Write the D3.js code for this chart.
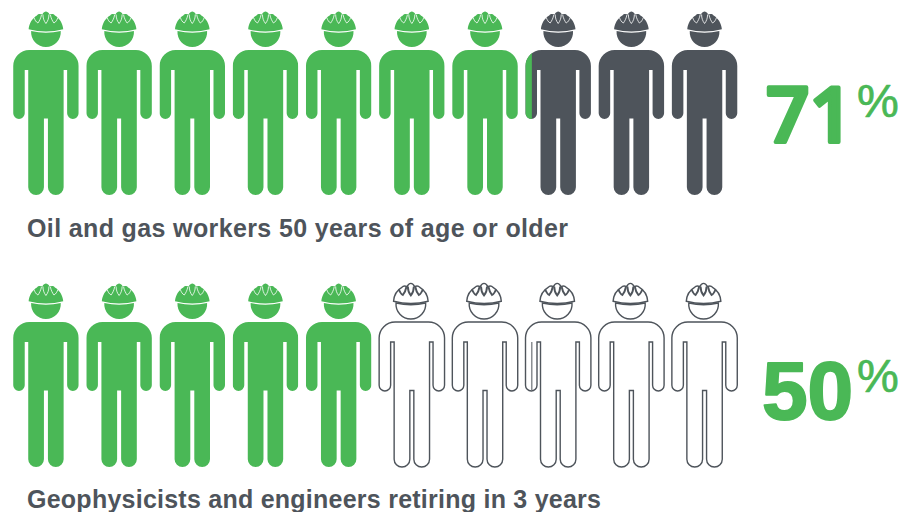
<!DOCTYPE html>
<html>
<head>
<meta charset="utf-8">
<script src="https://cdn.jsdelivr.net/npm/d3@7"></script>
<style>
html,body{margin:0;padding:0;background:#fff;overflow:hidden}
svg{display:block}
</style>
</head>
<body>
<div id="chart"></div>
<script>
// Share of people represented by each row of ten workers
const rowLabels = ["Oil and gas workers 50 years of age or older", "Geophysicists and engineers retiring in 3 years"];
const rowPercents = [71, 50];
const restStyles = ["solid", "outline"];
const workerCount = 10;

const GREEN = "#4ab856", SLATE = "#4e545b";
const width = 903, height = 512;

// Worker pictogram, origin on the body's centre line, y measured from the row top
const bodyPath = "M-32.7,66A16,16 0 0 1-16.7,50H16.7A16,16 0 0 1 32.7,66V113.3A5.75,5.75 0 0 1 21.2,113.3V70H17.7V187.2A7.85,7.85 0 0 1 2,187.2V118.5H-2V187.2A7.85,7.85 0 0 1-17.7,187.2V70H-21.2V113.3A5.75,5.75 0 0 1-32.7,113.3Z";
const headPath = "M-14.8,31Q0,34.6 14.8,31A14.85,14.85 0 1 1-14.8,31Z";
const helmetPath = "M-17.3,29.2C-16.8,23 -13.5,18 -9,15.4C-7.5,13.4 -5,14 -3.6,14.6C-2.6,12 -1,11.4 0,11.4C1,11.4 2.6,12 3.6,14.6C5,14 7.5,13.4 9,15.4C13.5,18 16.8,23 17.3,29.2Q0,33.8 -17.3,29.2Z";
const ribPaths = [
  "M-3,14.5C-3,18 -2,21 0,23.5C2,21 3,18 3,14.5",
  "M-12,17.5C-11,20 -10,22 -8,23C-6.5,21 -5,18 -4.5,15",
  "M12,17.5C11,20 10,22 8,23C6.5,21 5,18 4.5,15"
];

const svg = d3.select("#chart").append("svg").attr("width", width).attr("height", height);
const defs = svg.append("defs");

const x = d3.scaleBand().domain(d3.range(workerCount)).range([13, 737.5]).paddingInner(0.1);
const y = d3.scaleBand().domain(d3.range(rowLabels.length)).range([0, 544]);

function drawWorker(g, fill, outlined) {
  const s = outlined ? {fill: "#fff", stroke: SLATE, "stroke-width": 1.4} : {fill, stroke: "none"};
  const shape = (parent, d) => { const p = parent.append("path").attr("d", d); Object.entries(s).forEach(([k, v]) => p.attr(k, v)); return p; };
  shape(g, bodyPath);
  // The outlined helmets sit a touch left of the body's centre line
  const top = g.append("g").attr("transform", outlined ? "translate(-1,0)" : null);
  shape(top, headPath);
  shape(top, helmetPath);
  ribPaths.forEach(d => top.append("path").attr("d", d)
    .attr("fill", "none")
    .attr("stroke", outlined ? SLATE : "#fff")
    .attr("stroke-width", outlined ? 1.9 : 0.8));
}

// Figure styling for the large percentages, one entry per row
const numberFonts = ["'Open Sans', sans-serif", "'Liberation Sans', sans-serif"];
const numberWeights = [600, 700];
const numberSizes = [76, 82];
const numberStrokes = [4, 2];
const numberX = [766, 762];
const numberY = [141.5, 147];

rowLabels.forEach((label, r) => {
  const row = svg.append("g").attr("transform", `translate(0,${y(r)})`);
  const filled = rowPercents[r] / 100 * workerCount;

  d3.range(workerCount).forEach(i => {
    const cx = x(i) + x.bandwidth() / 2;
    const g = row.append("g").attr("transform", `translate(${cx},0)`);
    const share = Math.max(0, Math.min(1, filled - i));

    if (share < 1) {
      drawWorker(g, SLATE, restStyles[r] === "outline");
    }
    if (share > 0) {
      const id = `fill-${r}-${i}`;
      defs.append("clipPath").attr("id", id).append("rect")
        .attr("x", -x.bandwidth() / 2).attr("y", 0)
        .attr("width", x.bandwidth() * share).attr("height", 200);
      drawWorker(g.append("g").attr("clip-path", `url(#${id})`), GREEN, false);
    }
  });

  // Thin seam inside the eighth outlined worker's arm
  if (restStyles[r] === "outline") {
    const seamX = x(7) + x.bandwidth() * 0.1;
    row.append("line")
      .attr("x1", seamX).attr("x2", seamX).attr("y1", 70).attr("y2", 118)
      .attr("stroke", SLATE).attr("stroke-width", 1);
  }

  row.append("text")
    .attr("x", 27).attr("y", r === 0 ? 237 : 235.5)
    .attr("font-family", "'Liberation Sans', sans-serif")
    .attr("font-weight", 700).attr("font-size", 25)
    .attr("fill", SLATE)
    .attr("textLength", r === 0 ? 541 : 574)
    .attr("lengthAdjust", "spacing")
    .text(label);

  row.append("text")
    .attr("x", numberX[r]).attr("y", numberY[r])
    .attr("font-family", numberFonts[r])
    .attr("font-weight", numberWeights[r]).attr("font-size", numberSizes[r])
    .attr("fill", GREEN).attr("stroke", GREEN)
    .attr("stroke-width", numberStrokes[r]).attr("stroke-linejoin", "round")
    .text(rowPercents[r]);

  row.append("text")
    .attr("x", 857).attr("y", r === 0 ? 116.5 : 119.5)
    .attr("font-family", "'Liberation Sans', sans-serif")
    .attr("font-size", 47)
    .attr("fill", GREEN).attr("stroke", GREEN).attr("stroke-width", 0.7)
    .attr("stroke-linejoin", "round")
    .text("%");
});
</script>
</body>
</html>
